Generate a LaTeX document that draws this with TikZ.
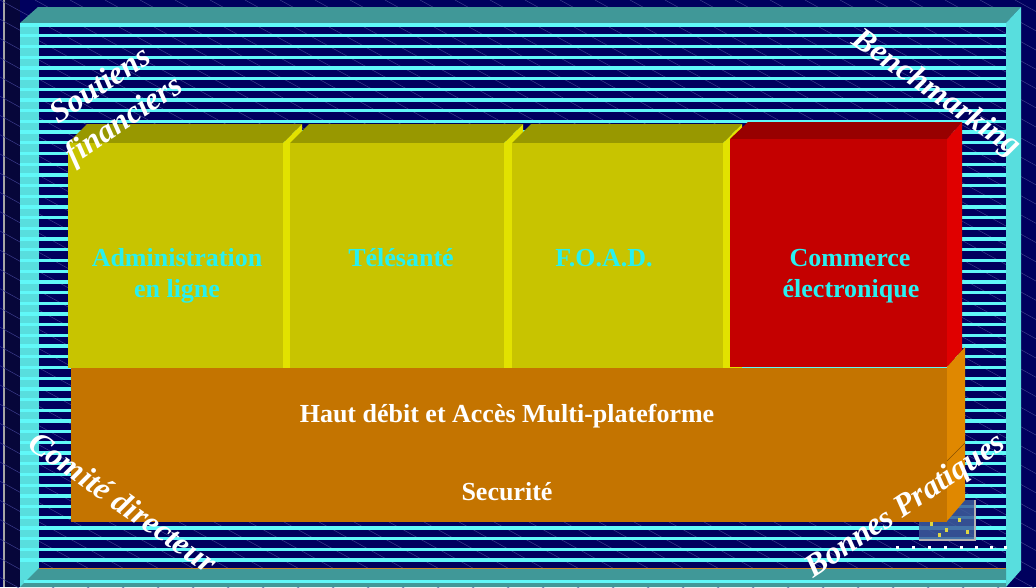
\documentclass[tikz,border=0pt]{standalone}
\usepackage{fontspec}
\setmainfont{Liberation Serif}
\definecolor{navybg}{RGB}{0,0,94}
\definecolor{leftband}{RGB}{6,6,58}
\definecolor{diagc}{RGB}{60,60,140}
\definecolor{topteal}{RGB}{64,152,152}
\definecolor{sidecyan}{RGB}{88,222,222}
\definecolor{stripec}{RGB}{96,248,248}
\definecolor{yfront}{RGB}{200,196,0}
\definecolor{ytop}{RGB}{152,152,0}
\definecolor{yside}{RGB}{226,226,0}
\definecolor{rfront}{RGB}{196,0,0}
\definecolor{rtop}{RGB}{152,0,0}
\definecolor{rside}{RGB}{224,0,0}
\definecolor{ofront}{RGB}{196,116,0}
\definecolor{oside}{RGB}{224,136,0}
\definecolor{cyantext}{RGB}{40,240,240}
\definecolor{iconblue}{RGB}{62,94,156}
\begin{document}
\begin{tikzpicture}[x=1pt,y=-1pt,
  every node/.style={inner sep=0pt,outer sep=0pt},
  boxtext/.style={anchor=base,text=cyantext,font=\fontsize{26}{31}\selectfont\bfseries},
  basetext/.style={anchor=base,text=white,font=\fontsize{26}{31}\selectfont\bfseries},
  cornertext/.style={text=white,align=center,font=\fontsize{32}{42}\selectfont\bfseries\itshape},
  diag/.style={draw=diagc,line width=0.5pt}]
\useasboundingbox (0,0) rectangle (1036,587);
% background
\fill[navybg] (0,0) rectangle (1036,587);
\fill[leftband] (5,0) rectangle (20,587);
\fill[gray!70] (3,0) rectangle (5,587);
\begin{scope}
  \clip (0,0) rectangle (1036,587);
  \foreach \i in {-32,...,30} \draw[diag] (\i*35,0) -- ++(1200,660);
\end{scope}
% frame faces
\fill[sidecyan] (20,23) rectangle (39,587);
\fill[topteal] (20,23) -- (38,7) -- (1021,7) -- (1006,23) -- cycle;
\fill[sidecyan] (1006,23) -- (1021,7) -- (1021,570) -- (1006,587) -- cycle;
% stripes
\foreach \k in {0,...,50} \fill[stripec] (20,{23.4+10.7*\k}) rectangle (1006,{26.7+10.7*\k});
\fill[topteal] (39,568) -- (1006,568) -- (1006,587) -- (20,587) -- cycle;
\fill[stripec] (24,579.8) rectangle (1006,583.1);
\draw[draw={rgb,255:red,200;green,140;blue,40},line width=0.8pt] (39,568) -- (1006,568);
% icon
\fill[iconblue,opacity=0.85] (919,500) rectangle (975,540);
\draw[gray!60,line width=1.2pt] (975,500) -- (975,540) -- (919,540);
\foreach \p in {(930,522),(945,528),(958,518),(966,530),(938,533)} \fill[yellow!70!gray] \p rectangle ++(3,4);
% dots
\foreach \x in {896,912,928,944,960,975,990,1004} \fill[white] (\x,545.5) rectangle ++(3,3);
% box 1
\fill[ytop] (68,143) -- (87,124) -- (302,124) -- (283,143) -- cycle;
\fill[yside] (283,143) -- (302,124) -- (302,368) -- (283,368) -- cycle;
\fill[yfront] (68,143) rectangle (283,368);
% box 2
\fill[ytop] (290,143) -- (309,124) -- (523,124) -- (504,143) -- cycle;
\fill[yside] (504,143) -- (523,124) -- (523,368) -- (504,368) -- cycle;
\fill[yfront] (290,143) rectangle (504,368);
% box 3
\fill[ytop] (512,143) -- (531,124) -- (742,124) -- (723,143) -- cycle;
\fill[yside] (723,143) -- (742,124) -- (742,368) -- (723,368) -- cycle;
\fill[yfront] (512,143) rectangle (723,368);
% box 4 (red)
\fill[rtop] (730,139) -- (748,122) -- (962,122) -- (947,139) -- cycle;
\fill[rside] (947,139) -- (962,122) -- (962,350) -- (947,367) -- cycle;
\fill[rfront] (730,139) rectangle (947,367);
% orange base
\fill[oside] (947,367) -- (965,347) -- (965,500) -- (947,521) -- cycle;
\draw[ofront!70!black,line width=0.4pt] (947,461) -- (965,443);
\fill[ofront] (71,367.5) rectangle (947,521.5);
% texts
\node[boxtext] (adm1) at (177,266) {Administration};
\node[boxtext] (adm2) at (177,297) {en ligne};
\node[boxtext] (tel) at (401,266) {Télésanté};
\node[boxtext] (foad) at (604,266) {F.O.A.D.};
\node[boxtext] (com1) at (850,266) {Commerce};
\node[boxtext] (com2) at (851,297) {électronique};
\node[basetext] (haut) at (507,422) {Haut débit et Accès Multi-plateforme};
\node[basetext] (secu) at (507,500) {Securité};
% corner texts
\node[cornertext,rotate=34] (sout) at (113,104) {Soutiens\\financiers};
\node[cornertext,rotate=-35] (bench) at (936,94) {Benchmarking};
\node[cornertext,rotate=-35] (comite) at (123,502) {Comité directeur};
\node[cornertext,rotate=34] (bonnes) at (906,507) {Bonnes Pratiques};
\end{tikzpicture}
\end{document}
